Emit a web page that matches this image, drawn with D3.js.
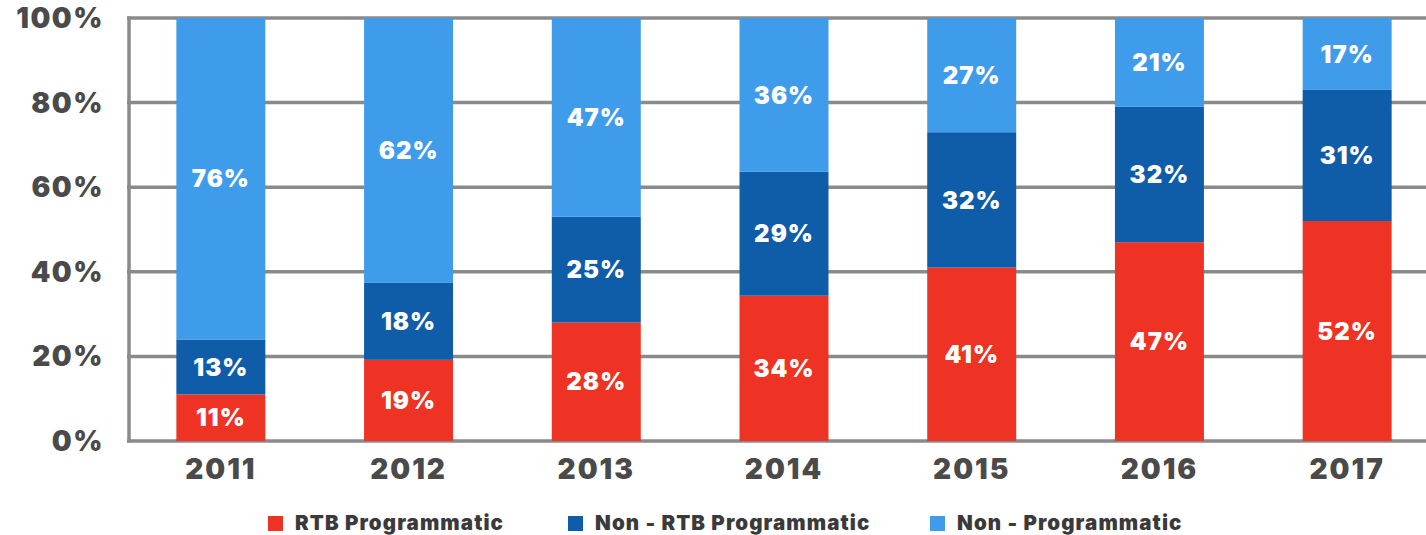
<!DOCTYPE html>
<html><head><meta charset="utf-8">
<script src="https://cdn.jsdelivr.net/npm/d3@7"></script>
<style>
html,body{margin:0;padding:0;background:#fff;}
text{font-family:"Inter","Lato","Open Sans",sans-serif;font-weight:900;}
</style></head>
<body>
<svg id="c" width="1426" height="535"></svg>
<script>
const years = ["2011","2012","2013","2014","2015","2016","2017"];
const rtb = [11,19,28,34,41,47,52];
const nonRtb = [13,18,25,29,32,32,31];
const nonProg = [76,62,47,36,27,21,17];
const seriesNames = ["RTB Programmatic","Non - RTB Programmatic","Non - Programmatic"];
const yTicks = [0,0.2,0.4,0.6,0.8,1.0];
const colors = ["#ee3224","#0f5ca9","#3f9ceb"];

const keys = ["rtb","nonRtb","nonProg"];
const rows = years.map((y,i)=>({year:y, rtb:rtb[i], nonRtb:nonRtb[i], nonProg:nonProg[i]}));
const stack = d3.stack().keys(keys).offset(d3.stackOffsetExpand);
const stacked = stack(rows);

const svg = d3.select("#c");
const x = d3.scaleBand().domain(years).range([127,1441]).paddingInner(0.526).paddingOuter(0.263);
const y = d3.scaleLinear().domain([0,1]).range([441,18]);

svg.append("g").selectAll("line").data(yTicks).join("line")
  .attr("x1",127).attr("x2",1426)
  .attr("y1",d=>y(d)).attr("y2",d=>y(d))
  .attr("stroke","#8a8a8a").attr("stroke-width",3.5);
svg.append("line").attr("x1",129).attr("x2",129).attr("y1",y(1)-1.5).attr("y2",y(0)+1.5)
  .attr("stroke","#8a8a8a").attr("stroke-width",3.5);

svg.append("g").selectAll("text").data(yTicks).join("text")
  .attr("x",104).attr("y",d=>y(d)).attr("dy","0.36em")
  .attr("text-anchor","end").attr("fill","#4a4a4a").attr("font-size",28)
  .attr("letter-spacing",1.5)
  .text(d=>d3.format(".0%")(d));

const g = svg.append("g");
stacked.forEach((s,si)=>{
  g.append("g").selectAll("rect").data(s).join("rect")
    .attr("x",d=>x(d.data.year)).attr("width",x.bandwidth())
    .attr("y",d=>y(d[1])).attr("height",d=>y(d[0])-y(d[1]))
    .attr("fill",colors[si]);
  g.append("g").selectAll("text").data(s).join("text")
    .attr("x",d=>x(d.data.year)+x.bandwidth()/2)
    .attr("y",d=>(y(d[0])+y(d[1]))/2).attr("dy","0.36em")
    .attr("text-anchor","middle").attr("fill","#fff").attr("font-size",24)
    .attr("letter-spacing",1)
    .text(d=>d.data[keys[si]]+"%");
});

svg.append("g").selectAll("text").data(years).join("text")
  .attr("x",d=>x(d)+x.bandwidth()/2).attr("y",469).attr("dy","0.36em")
  .attr("text-anchor","middle").attr("fill","#4a4a4a").attr("font-size",28)
  .attr("letter-spacing",2)
  .text(d=>d);

const legX = [268,568,930];
const lg = svg.append("g");
seriesNames.forEach((n,i)=>{
  lg.append("rect").attr("x",legX[i]).attr("y",516).attr("width",15).attr("height",15).attr("fill",colors[i]);
  lg.append("text").attr("x",legX[i]+27).attr("y",523).attr("dy","0.36em")
    .attr("fill","#3a3a3a").attr("font-size",20.5).attr("letter-spacing",1.1).text(n);
});
</script>
</body></html>
